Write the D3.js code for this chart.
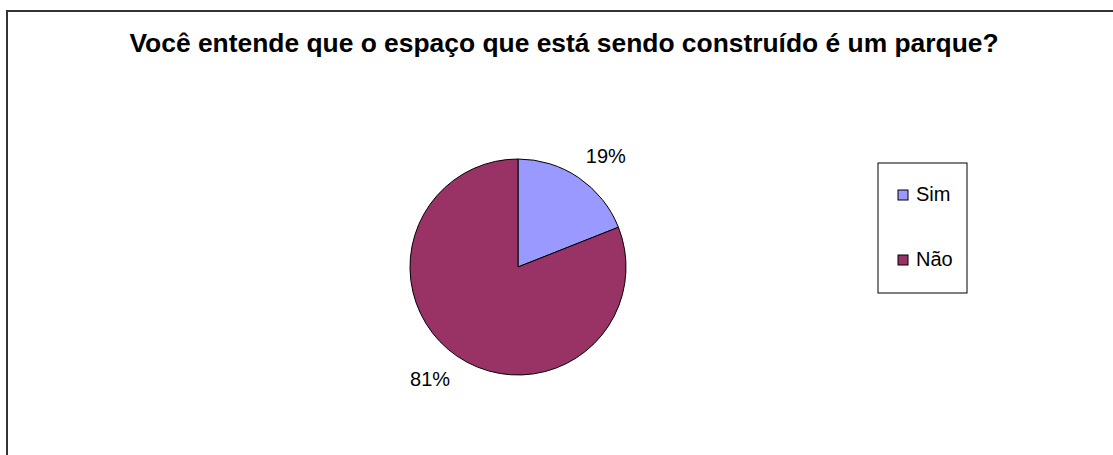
<!DOCTYPE html>
<html>
<head>
<meta charset="utf-8">
<script src="https://cdn.jsdelivr.net/npm/d3@7"></script>
<style>
  body { margin: 0; background: #fff; }
  text { font-family: Arial, "Liberation Sans", sans-serif; }
</style>
</head>
<body>
<div id="pie_chart"></div>
<script>
const TITLE = 'Você entende que o espaço que está sendo construído é um parque?';
const CATEGORIES = ['Sim', 'Não'];
const VALUES = [19, 81];
const COLORS = ['#9999FF', '#993366'];

const width = 1113
const height = 455
const cx = 518
const cy = 267
const radius = 108

const svg = d3.select('#pie_chart')
              .append('svg')
              .attr('width', width)
              .attr('height', height);

// outer chart border (right/bottom run off the picture)
svg.append('rect')
  .attr('x', 7).attr('y', 11)
  .attr('width', 1120).attr('height', 460)
  .attr('fill', 'none')
  .attr('stroke', '#333')
  .attr('stroke-width', 2);

svg.append('text')
  .attr('x', 564)
  .attr('y', 52)
  .attr('text-anchor', 'middle')
  .style('font-weight', 'bold')
  .style('font-size', '26.4px')
  .text(TITLE);

const data = CATEGORIES.map((c, i) => ({ name: c, value: VALUES[i] }));
const total = d3.sum(VALUES);
const pie = d3.pie().sort(null).value(d => d.value);
const arc = d3.arc().innerRadius(0).outerRadius(radius);
const labelArc = d3.arc().innerRadius(135).outerRadius(135);
const color = d3.scaleOrdinal().domain(CATEGORIES).range(COLORS);

const g = svg.append('g').attr('transform', `translate(${cx},${cy})`);

const arcs = pie(data);

g.selectAll('path')
  .data(arcs)
  .enter()
  .append('path')
  .attr('d', arc)
  .attr('fill', d => color(d.data.name))
  .attr('stroke', '#000')
  .attr('stroke-width', 1);

g.selectAll('.lbl')
  .data(arcs)
  .enter()
  .append('text')
  .classed('lbl', true)
  .attr('x', d => {
    const [x] = labelArc.centroid(d);
    return x + (x >= 0 ? 12 : -12);
  })
  .attr('y', d => labelArc.centroid(d)[1])
  .attr('dy', '0.36em')
  .attr('text-anchor', 'middle')
  .style('font-size', '20px')
  .text(d => Math.round(d.data.value / total * 100) + '%');

// legend
const legend = svg.append('g').attr('transform', 'translate(878,163)');
legend.append('rect')
  .attr('width', 89).attr('height', 130)
  .attr('fill', '#fff')
  .attr('stroke', '#000')
  .attr('stroke-width', 1);

const yLeg = d3.scalePoint().domain(CATEGORIES).range([32, 97]);

const item = legend.selectAll('.item')
  .data(CATEGORIES)
  .enter()
  .append('g')
  .classed('item', true)
  .attr('transform', d => `translate(0,${yLeg(d)})`);

item.append('rect')
  .attr('x', 20).attr('y', -5)
  .attr('width', 10).attr('height', 10)
  .attr('fill', d => color(d))
  .attr('stroke', '#000');

item.append('text')
  .attr('x', 38)
  .attr('y', 6)
  .style('font-size', '20px')
  .text(d => d);
</script>
</body>
</html>
